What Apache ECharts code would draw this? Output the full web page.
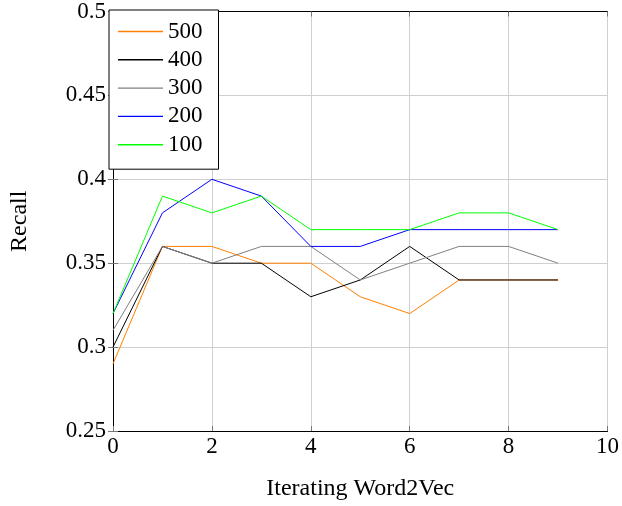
<!DOCTYPE html>
<html>
<head>
<meta charset="utf-8">
<script src="https://cdn.jsdelivr.net/npm/echarts@6/dist/echarts.min.js"></script>
<style>html,body{margin:0;padding:0;background:#fff;}#c{width:622px;height:506px;}</style>
</head>
<body>
<div id="c"></div>
<script>
const xValues = [0, 1, 2, 3, 4, 5, 6, 7, 8, 9];
const seriesNames = ['500', '400', '300', '200', '100'];
const s500 = [0.29, 0.36, 0.36, 0.35, 0.35, 0.33, 0.32, 0.34, 0.34, 0.34];
const s400 = [0.30, 0.36, 0.35, 0.35, 0.33, 0.34, 0.36, 0.34, 0.34, 0.34];
const s300 = [0.31, 0.36, 0.35, 0.36, 0.36, 0.34, 0.35, 0.36, 0.36, 0.35];
const s200 = [0.32, 0.38, 0.40, 0.39, 0.36, 0.36, 0.37, 0.37, 0.37, 0.37];
const s100 = [0.32, 0.39, 0.38, 0.39, 0.37, 0.37, 0.37, 0.38, 0.38, 0.37];
const yTickLabels = ['0.25', '0.3', '0.35', '0.4', '0.45', '0.5'];
const xTickLabels = ['0', '2', '4', '6', '8', '10'];

const colors = ['#ff7f00', '#000000', '#808080', '#0000ff', '#00ff00'];
const allValues = [s500, s400, s300, s200, s100];
const FONT = 'Liberation Serif';

const chart = echarts.init(document.getElementById('c'), null, {renderer: 'canvas'});
const series = seriesNames.map((n, i) => ({
  name: n,
  type: 'line',
  data: xValues.map((x, j) => [x, allValues[i][j]]),
  symbol: 'none',
  color: colors[i],
  lineStyle: {color: colors[i], width: 1},
  itemStyle: {color: colors[i]},
  z: 2 + i,
  animation: false
}));

function yFmt(v) {
  const idx = Math.round((v - 0.25) / 0.05);
  return yTickLabels[idx] !== undefined ? yTickLabels[idx] : '';
}
function xFmt(v) {
  const idx = Math.round(v / 2);
  return xTickLabels[idx] !== undefined ? xTickLabels[idx] : '';
}

chart.setOption({
  animation: false,
  backgroundColor: '#ffffff',
  textStyle: {fontFamily: FONT},
  grid: {left: 110, right: 13, top: 10, bottom: 74, containLabel: false},
  legend: {
    data: seriesNames.map((n, i) => ({name: n, icon: 'rect', itemStyle: {color: colors[i], borderWidth: 0}})),
    orient: 'vertical',
    left: 109, top: 10,
    padding: [10, 16, 13, 9],
    itemWidth: 45, itemHeight: 1.4,
    itemGap: 5.3,
    backgroundColor: '#ffffff',
    borderColor: '#000000', borderWidth: 1,
    textStyle: {fontFamily: FONT, fontSize: 23, color: '#000', lineHeight: 23},
    selectedMode: false,
    z: 20
  },
  xAxis: [{
    type: 'value', min: 0, max: 10, interval: 2,
    name: 'Iterating Word2Vec', nameLocation: 'middle', nameGap: 46,
    nameTextStyle: {fontFamily: FONT, fontSize: 24, color: '#000'},
    axisLine: {show: true, lineStyle: {color: '#000', width: 1}},
    axisTick: {show: true, inside: true, length: 5, lineStyle: {color: '#777'}},
    axisLabel: {formatter: xFmt, fontFamily: FONT, fontSize: 23, color: '#000', margin: 4},
    splitLine: {show: true, lineStyle: {color: '#d0d0d0', width: 1}}
  }, {
    type: 'value', min: 0, max: 10, interval: 2, position: 'top',
    axisLine: {show: true, lineStyle: {color: '#000', width: 1}},
    axisTick: {show: true, inside: true, length: 5, lineStyle: {color: '#777'}},
    axisLabel: {show: false}, splitLine: {show: false}
  }],
  yAxis: [{
    type: 'value', min: 0.25, max: 0.5, interval: 0.05,
    name: 'Recall', nameLocation: 'middle', nameGap: 81, nameRotate: 90,
    nameTextStyle: {fontFamily: FONT, fontSize: 24, color: '#000'},
    axisLine: {show: true, lineStyle: {color: '#000', width: 1}},
    axisTick: {show: true, inside: true, length: 5, lineStyle: {color: '#777'}},
    axisLabel: {formatter: yFmt, fontFamily: FONT, fontSize: 23, color: '#000', margin: 7},
    splitLine: {show: true, lineStyle: {color: '#d0d0d0', width: 1}}
  }, {
    type: 'value', min: 0.25, max: 0.5, interval: 0.05, position: 'right',
    axisLine: {show: true, lineStyle: {color: '#000', width: 1}},
    axisTick: {show: true, inside: true, length: 5, lineStyle: {color: '#777'}},
    axisLabel: {show: false}, splitLine: {show: false}
  }],
  series: series
});
</script>
</body>
</html>
